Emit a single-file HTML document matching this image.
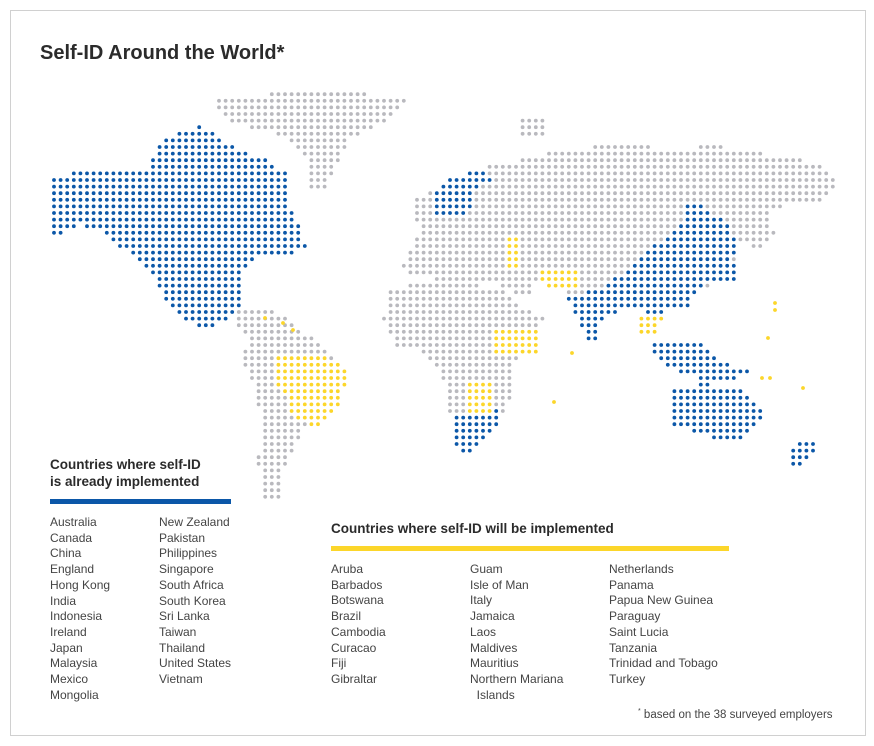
<!DOCTYPE html>
<html><head><meta charset="utf-8"><style>
body{margin:0;background:#fff;width:874px;height:746px;position:relative;font-family:"Liberation Sans",sans-serif;color:#333;overflow:hidden}
.frame{position:absolute;left:10px;top:10px;width:854px;height:724px;border:1px solid #d0d0d0}
.t{position:absolute;white-space:nowrap}
h1{position:absolute;left:40px;top:42px;margin:0;font-size:20px;font-weight:bold;color:#2b2b2b}
.h{font-size:13.5px;font-weight:bold;color:#2b2b2b;line-height:17px}
.col{position:absolute;font-size:12px;line-height:15.7px;color:#444}
svg{position:absolute;left:0;top:0}
</style></head><body>
<div class="frame"></div>
<h1>Self-ID Around the World*</h1>
<svg id="m" width="874" height="746"></svg>
<div class="t h" style="left:50px;top:456px">Countries where self-ID<br>is already implemented</div>
<div style="position:absolute;left:50px;top:499px;width:181px;height:5px;background:#0b57a8"></div>
<div class="col" style="left:50px;top:515px">Australia<br>Canada<br>China<br>England<br>Hong Kong<br>India<br>Indonesia<br>Ireland<br>Japan<br>Malaysia<br>Mexico<br>Mongolia</div>
<div class="col" style="left:159px;top:515px">New Zealand<br>Pakistan<br>Philippines<br>Singapore<br>South Africa<br>South Korea<br>Sri Lanka<br>Taiwan<br>Thailand<br>United States<br>Vietnam</div>
<div class="t h" style="left:331px;top:520px">Countries where self-ID will be implemented</div>
<div style="position:absolute;left:331px;top:546px;width:398px;height:5px;background:#fcd62a"></div>
<div class="col" style="left:331px;top:562px">Aruba<br>Barbados<br>Botswana<br>Brazil<br>Cambodia<br>Curacao<br>Fiji<br>Gibraltar</div>
<div class="col" style="left:470px;top:562px">Guam<br>Isle of Man<br>Italy<br>Jamaica<br>Laos<br>Maldives<br>Mauritius<br>Northern Mariana<br>&nbsp;&nbsp;Islands</div>
<div class="col" style="left:609px;top:562px">Netherlands<br>Panama<br>Papua New Guinea<br>Paraguay<br>Saint Lucia<br>Tanzania<br>Trinidad and Tobago<br>Turkey</div>
<div class="t" style="left:638px;top:708px;font-size:11.5px;color:#444"><sup style="font-size:7px">*</sup> based on the 38 surveyed employers</div>
<script>
var G='#b9b9be',B='#0b57a8',Y='#fcd62a';
var polys=[
[G,[[215,100],[255,95],[300,92],[340,90],[405,100],[380,125],[350,140],[340,160],[325,192],[310,188],[305,160],[280,135],[255,130],[225,120]]],
[G,[[236,308],[265,308],[290,320],[320,345],[347,368],[347,382],[320,410],[305,428],[292,450],[282,475],[280,503],[264,503],[258,460],[262,420],[255,390],[242,360],[250,340],[236,325]]],
[G,[[420,195],[460,185],[490,165],[530,158],[570,148],[620,146],[680,148],[720,146],[760,153],[820,163],[840,185],[820,200],[790,205],[770,210],[775,235],[760,250],[740,240],[735,270],[720,280],[700,290],[680,300],[660,310],[620,310],[600,320],[590,300],[560,290],[540,280],[525,300],[510,290],[490,280],[440,280],[420,275],[400,270],[410,250],[420,230],[410,210]]],
[G,[[388,290],[430,280],[480,285],[505,290],[520,305],[545,318],[535,345],[512,365],[510,400],[500,420],[480,440],[465,460],[455,440],[448,400],[440,370],[420,352],[395,347],[383,320]]],
[G,[[520,120],[545,118],[545,135],[520,140]]],
[B,[[52,176],[90,170],[150,168],[160,140],[200,125],[240,150],[265,158],[292,178],[287,200],[307,246],[285,256],[262,256],[245,270],[245,300],[225,322],[205,330],[190,324],[165,300],[155,275],[140,262],[100,230],[80,225],[52,238],[50,205]]],
[B,[[430,195],[450,178],[488,168],[490,182],[470,195],[470,212],[438,217]]],
[B,[[563,296],[600,290],[640,258],[680,225],[690,200],[712,212],[732,222],[737,255],[720,275],[700,290],[690,305],[662,312],[650,338],[640,306],[620,312],[602,322],[594,348],[578,320]]],
[B,[[648,342],[700,342],[722,362],[752,372],[722,382],[690,377],[658,362]]],
[B,[[668,393],[700,383],[742,388],[762,408],[762,422],[742,442],[722,442],[700,432],[668,427]]],
[B,[[795,440],[816,444],[812,460],[788,472]]],
[B,[[722,258],[740,268],[732,283],[710,283]]],
[B,[[452,413],[502,410],[496,427],[470,452],[458,458]]],
[Y,[[272,352],[318,352],[348,370],[342,402],[316,428],[292,418],[286,398],[272,376]]],
[Y,[[468,383],[492,383],[490,412],[468,412]]],
[Y,[[493,327],[538,327],[536,356],[493,356]]],
[Y,[[538,268],[582,268],[578,288],[544,288]]],
[Y,[[638,318],[662,318],[658,333],[640,333]]],
[Y,[[508,237],[522,237],[522,266],[508,266]]]
];
function inside(x,y,p){var c=false;for(var i=0,j=p.length-1;i<p.length;j=i++){var a=p[i],b=p[j];if((a[1]>y)!=(b[1]>y)&&x<(b[0]-a[0])*(y-a[1])/(b[1]-a[1])+a[0])c=!c;}return c;}
var s='',d=6.6;
for(var y=180-d*14;y<510;y+=d)for(var x=54;x<845;x+=d){var col=null;for(var k=0;k<polys.length;k++)if(inside(x,y,polys[k][1]))col=polys[k][0];if(col)s+='<circle cx="'+x.toFixed(1)+'" cy="'+y.toFixed(1)+'" r="1.9" fill="'+col+'"/>';}
[[572,353],[554,402],[775,303],[775,310],[768,338],[762,378],[770,378],[803,388],[265,318],[283,323],[293,330]].forEach(function(p){s+='<circle cx="'+p[0]+'" cy="'+p[1]+'" r="1.9" fill="'+Y+'"/>';});
document.getElementById('m').innerHTML=s;
</script>
</body></html>
